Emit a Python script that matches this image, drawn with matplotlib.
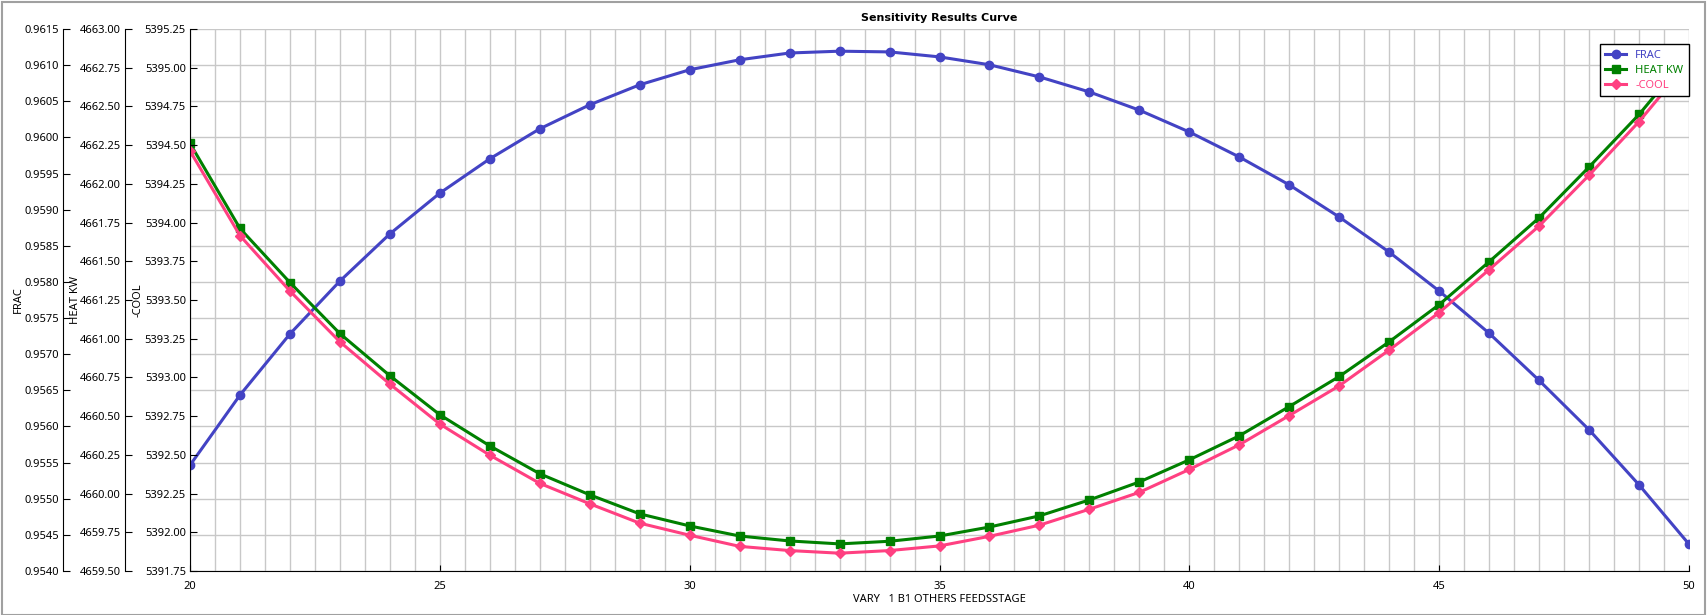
import matplotlib
matplotlib.use("Agg")
import matplotlib.pyplot as plt
from matplotlib.patches import Rectangle
from matplotlib.ticker import MultipleLocator, FormatStrFormatter

plt.rcParams['font.family'] = ['Noto Sans', 'DejaVu Sans']

# feed stage values
stage = list(range(20, 51))

frac = [0.955464, 0.956434, 0.957280, 0.958012, 0.958665, 0.959229, 0.959704,
        0.960119, 0.960451, 0.960728, 0.960936, 0.961074, 0.961168, 0.961193,
        0.961183, 0.961114, 0.961005, 0.960837, 0.960629, 0.960377, 0.960075,
        0.959729, 0.959343, 0.958898, 0.958413, 0.957874, 0.957290, 0.956637,
        0.955954, 0.955192, 0.954371]

heat_kw = [4662.261, 4661.712, 4661.363, 4661.033, 4660.761, 4660.509, 4660.308,
           4660.128, 4659.992, 4659.869, 4659.791, 4659.726, 4659.694, 4659.675,
           4659.692, 4659.726, 4659.784, 4659.856, 4659.959, 4660.075, 4660.218,
           4660.373, 4660.562, 4660.756, 4660.980, 4661.220, 4661.497, 4661.781,
           4662.109, 4662.448, 4662.836]

cool = [5394.463, 5393.916, 5393.558, 5393.230, 5392.957, 5392.699, 5392.498,
        5392.316, 5392.184, 5392.059, 5391.981, 5391.909, 5391.882, 5391.865,
        5391.882, 5391.912, 5391.974, 5392.046, 5392.149, 5392.258, 5392.406,
        5392.565, 5392.754, 5392.946, 5393.177, 5393.419, 5393.696, 5393.978,
        5394.306, 5394.652, 5395.040]

BLUE = '#4343c4'
GREEN = '#008000'
PINK = '#ff4081'
FS = 8

W, H = 1707, 615
fig = plt.figure(figsize=(W / 100, H / 100), dpi=100)
fig.add_artist(Rectangle((0.001, 0.0), 0.998, 0.997, transform=fig.transFigure,
                         fill=False, ec='#a0a0a0', lw=1.5))

ax = fig.add_axes([190 / W, 44 / H, 1499 / W, 542 / H])
ax_heat = ax.twinx()
ax_cool = ax.twinx()

l1, = ax.plot(stage, frac, color=BLUE, lw=2.2, marker='o', ms=6, label='FRAC')
l2, = ax_heat.plot(stage, heat_kw, color=GREEN, lw=2.2, marker='s', ms=5.5, label='HEAT KW')
l3, = ax_cool.plot(stage, cool, color=PINK, lw=2.2, marker='D', ms=5, label='-COOL')

ax.set_xlim(20, 50)
ax.set_ylim(0.9540, 0.9615)
ax_heat.set_ylim(4659.5, 4663.0)
ax_cool.set_ylim(5391.75, 5395.25)

# x axis
ax.xaxis.set_major_locator(MultipleLocator(5))
ax.xaxis.set_minor_locator(MultipleLocator(0.5))
ax.tick_params(axis='x', which='major', direction='in', length=4, labelsize=FS, pad=7)
ax.tick_params(axis='x', which='minor', length=0)
ax.set_xlabel('VARY   1 B1 OTHERS FEEDSSTAGE', fontsize=FS, labelpad=2)

# grid
ax.grid(which='major', axis='y', color='#c8c8c8', lw=1)
ax.grid(which='both', axis='x', color='#c8c8c8', lw=1)
ax.set_axisbelow(True)

for a in (ax, ax_heat, ax_cool):
    for s in ('top', 'right'):
        a.spines[s].set_visible(False)
    a.spines['left'].set_color('black')
ax_heat.spines['bottom'].set_visible(False)
ax_cool.spines['bottom'].set_visible(False)
ax.spines['bottom'].set_color('black')

specs = [(ax, 0.0005, '%.4f', -127, 'FRAC', -166),
         (ax_heat, 0.25, '%.2f', -65, 'HEAT KW', -109),
         (ax_cool, 0.25, '%.2f', 0, '-COOL', -46)]
for a, step, fmt, off, lab, lab_x in specs:
    a.yaxis.set_label_position('left')
    a.yaxis.tick_left()
    a.spines['left'].set_visible(True)
    a.spines['left'].set_position(('axes', off / 1499))
    a.yaxis.set_major_locator(MultipleLocator(step))
    a.yaxis.set_major_formatter(FormatStrFormatter(fmt))
    a.tick_params(axis='y', direction='in', length=5, labelsize=FS, pad=3)
    a.set_ylabel(lab, fontsize=FS)
    a.yaxis.set_label_coords(lab_x / 1499, 0.5)

ax.set_title('Sensitivity Results Curve', fontsize=FS, fontweight='bold',
             family=['DejaVu Sans'], pad=6)

leg = ax_cool.legend(handles=[l1, l2, l3], loc='upper right',
                     bbox_to_anchor=(1.0, 0.972), fontsize=FS, fancybox=False,
                     edgecolor='black', framealpha=1, borderaxespad=0,
                     handlelength=1.9, labelspacing=0.35, borderpad=0.5)
leg.get_frame().set_linewidth(1)
for txt, c in zip(leg.get_texts(), [BLUE, GREEN, PINK]):
    txt.set_color(c)

fig.savefig('out.png', dpi=100)
